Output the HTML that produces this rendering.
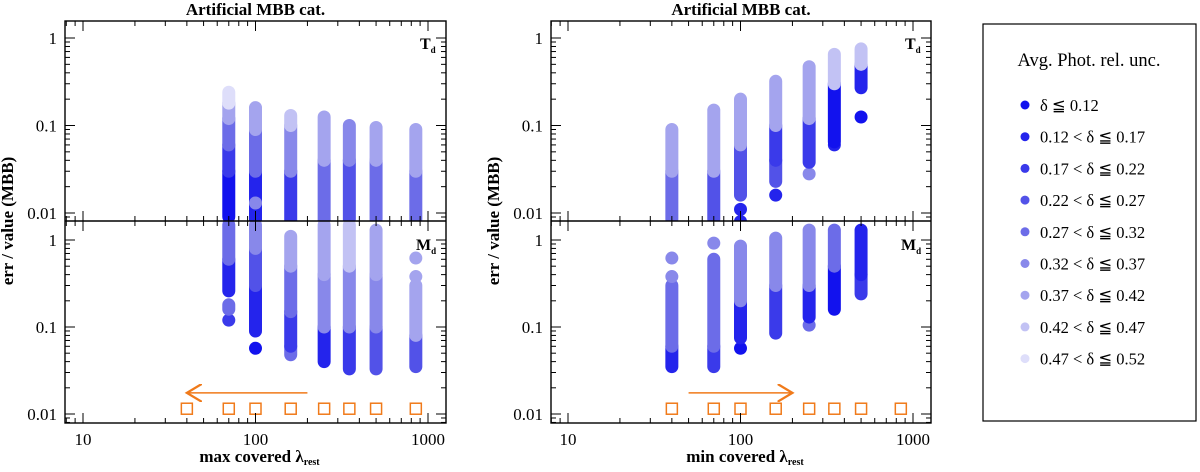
<!DOCTYPE html>
<html><head><meta charset="utf-8"><style>
body{margin:0;background:#fff;}
svg text{font-family:"Liberation Serif",serif;}
</style></head><body>
<svg id="chart" width="1200" height="467" viewBox="0 0 1200 467" xmlns="http://www.w3.org/2000/svg">
<defs>
<clipPath id="clipTop1"><rect x="65" y="21" width="381" height="200"/></clipPath>
<clipPath id="clipBot1"><rect x="65" y="221" width="381" height="202"/></clipPath>
<clipPath id="clipTop2"><rect x="551" y="21" width="380" height="200"/></clipPath>
<clipPath id="clipBot2"><rect x="551" y="221" width="380" height="202"/></clipPath>
<marker id="arrowhead" markerWidth="12" markerHeight="12" refX="10" refY="6" orient="auto"><path d="M0,0 L10,6 L0,12" fill="none" stroke="#f07a1a" stroke-width="1.5"/></marker>
</defs>
<g id="plots"></g>
<g>
<rect x="983" y="24" width="213" height="397" fill="#fff" stroke="#000" stroke-width="1.2"/>
<text x="1089" y="66" text-anchor="middle" font-size="18.5">Avg. Phot. rel. unc.</text>
<g id="legendItems"></g>
</g>
</svg>
<script>
// ---- data ----
var colors = ["#1212ee","#2424ec","#3a3aea","#5252e8","#6c6ce8","#8888ea","#a4a4ee","#c2c2f4","#dedefa"];
var legendLabels = ["δ ≦ 0.12","0.12 < δ ≦ 0.17","0.17 < δ ≦ 0.22","0.22 < δ ≦ 0.27","0.27 < δ ≦ 0.32","0.32 < δ ≦ 0.37","0.37 < δ ≦ 0.42","0.42 < δ ≦ 0.47","0.47 < δ ≦ 0.52"];
var leftColumnsX = [70,100,160,250,350,500,850];
var rightColumnsX = [40,70,100,160,250,350,500];
var squaresX = [40,70,100,160,250,350,500,850];
var squareY = 0.0115;
var xTickLabels = [10,100,1000];
var yTickLabels = [1,0.1,0.01];
// segments per column: [lo, hi, colorIndex]
var leftTd = [
 [[0.009,0.03,0],[0.03,0.06,2],[0.06,0.12,4],[0.12,0.18,6],[0.18,0.24,8]],
 [[0.008,0.03,1],[0.013,0.013,5],[0.03,0.09,4],[0.09,0.16,6]],
 [[0.008,0.03,2],[0.03,0.1,5],[0.1,0.13,7]],
 [[0.008,0.04,4],[0.04,0.125,6]],
 [[0.0085,0.04,3],[0.04,0.1,5]],
 [[0.0085,0.04,4],[0.04,0.095,6]],
 [[0.0085,0.03,4],[0.03,0.09,6]]
];
var leftMd = [
 [[0.12,0.12,2],[0.16,0.18,4],[0.26,0.6,1],[0.6,1.5,4]],
 [[0.057,0.057,0],[0.09,0.3,1],[0.3,0.8,3],[0.8,1.5,5]],
 [[0.048,0.06,4],[0.06,0.15,2],[0.15,0.5,4],[0.5,1.1,6]],
 [[0.04,0.1,1],[0.1,0.4,5],[0.4,1.5,6]],
 [[0.033,0.1,2],[0.1,0.5,5],[0.5,1.5,7]],
 [[0.033,0.1,3],[0.1,0.4,5],[0.4,1.3,6]],
 [[0.035,0.08,3],[0.08,0.3,6],[0.38,0.38,6],[0.62,0.62,6]]
];
var rightTd = [
 [[0.0085,0.03,4],[0.03,0.09,6]],
 [[0.0085,0.03,3],[0.03,0.15,6]],
 [[0.008,0.008,1],[0.011,0.011,1],[0.016,0.06,3],[0.06,0.2,6]],
 [[0.016,0.016,1],[0.023,0.04,3],[0.04,0.1,2],[0.1,0.32,6]],
 [[0.028,0.028,5],[0.038,0.12,2],[0.12,0.47,6]],
 [[0.06,0.06,1],[0.065,0.3,0],[0.3,0.65,7]],
 [[0.125,0.125,0],[0.27,0.5,1],[0.5,0.75,7]]
];
var rightMd = [
 [[0.035,0.06,1],[0.06,0.3,4],[0.38,0.38,5],[0.62,0.62,5]],
 [[0.035,0.06,2],[0.06,0.6,4],[0.92,0.92,5]],
 [[0.057,0.057,0],[0.075,0.2,1],[0.2,0.85,5]],
 [[0.085,0.3,2],[0.3,1.05,5]],
 [[0.105,0.105,4],[0.13,0.3,1],[0.3,1.3,5]],
 [[0.16,0.5,0],[0.5,1.3,4]],
 [[0.24,0.4,2],[0.4,1.3,1]]
];
var leftArrow = [200,40], rightArrow = [50,200], arrowY = 0.0175;

var NS="http://www.w3.org/2000/svg";
function mk(tag, attrs, parent){var e=document.createElementNS(NS,tag);for(var k in attrs)e.setAttribute(k,attrs[k]);parent.appendChild(e);return e;}
var root=document.getElementById('plots');

function panel(p){
  var dec=172.5;
  var xs=function(v){return p.x10+dec*Math.log10(v/10);};
  var ysTop=function(v){return 38+87.5*(-Math.log10(v));};
  var ysBot=function(v){return 240+87*(-Math.log10(v));};
  var g=mk('g',{},root);
  
  
  function drawCols(data, cx, ys, clip, nm){
    var cg=mk('g',{'clip-path':'url(#'+clip+')'},g);
    
    
    for(var i=0;i<data.length;i++){
      for(var j=0;j<data[i].length;j++){
        var s=data[i][j];var y1=ys(s[1]),y2=ys(s[0]);
        var r=mk('rect',{x:xs(cx[i])-6.5,y:y1-6.5,width:13,height:(y2-y1)+13,rx:6.5,ry:6.5,fill:colors[s[2]]},cg);
        
        
      }
    }
  }
  drawCols(p.td,p.cx,ysTop,p.clipT,'td-series');
  drawCols(p.md,p.cx,ysBot,p.clipB,'md-series');
  for(var i=0;i<squaresX.length;i++){
    var sq=mk('rect',{x:xs(squaresX[i])-5.5,y:ysBot(squareY)-5.5,width:11,height:11,fill:'none',stroke:'#f07a1a','stroke-width':1.5},g);
    
    
  }
  var ar=mk('line',{x1:xs(p.arrow[0]),x2:xs(p.arrow[1]),y1:ysBot(arrowY),y2:ysBot(arrowY),stroke:'#f07a1a','stroke-width':1.5,'marker-end':'url(#arrowhead)'},g);
  
  
  var L=p.left,R=p.right;
  mk('rect',{x:L,y:21,width:R-L,height:402,fill:'none',stroke:'#000','stroke-width':1.4},g);
  mk('line',{x1:L,x2:R,y1:221,y2:221,stroke:'#000','stroke-width':1.4},g);
  for(var d=1;d<=3;d++){for(var m=1;m<10;m++){var v=Math.pow(10,d)*m;if(v>1300)break;var x=xs(v);if(x<L||x>R)continue;
    var len=m==1?10:5;
    mk('line',{x1:x,x2:x,y1:423,y2:423-len,stroke:'#000'},g);
    mk('line',{x1:x,x2:x,y1:21,y2:21+len,stroke:'#000'},g);
    mk('line',{x1:x,x2:x,y1:221-len,y2:221+len,stroke:'#000'},g);
  }}
  for(var m=8;m<10;m++){var x=xs(m);if(x>=L){mk('line',{x1:x,x2:x,y1:423,y2:418,stroke:'#000'},g);mk('line',{x1:x,x2:x,y1:21,y2:26,stroke:'#000'},g);mk('line',{x1:x,x2:x,y1:216,y2:226,stroke:'#000'},g);}}
  [ysTop,ysBot].forEach(function(ys,k){
    var top=k==0?21:221,bot=k==0?221:423;
    for(var d=-3;d<=0;d++){for(var m=1;m<10;m++){var v=Math.pow(10,d)*m;var y=ys(v);if(y<top||y>bot)continue;
      var len=m==1?10:5;
      mk('line',{x1:L,x2:L+len,y1:y,y2:y,stroke:'#000'},g);
      mk('line',{x1:R,x2:R-len,y1:y,y2:y,stroke:'#000'},g);
    }}
    for(var i=0;i<yTickLabels.length;i++){
      var t=mk('text',{x:L-8,y:ys(yTickLabels[i])+6,'text-anchor':'end','font-size':17},g);t.textContent=String(yTickLabels[i]);
      
      
    }
  });
  for(var i=0;i<xTickLabels.length;i++){
    var t=mk('text',{x:xs(xTickLabels[i]),y:445,'text-anchor':'middle','font-size':17},g);t.textContent=String(xTickLabels[i]);
    
    
  }
  var t=mk('text',{x:(L+R)/2,y:15,'text-anchor':'middle','font-size':17,'font-weight':'bold'},g);t.textContent='Artificial MBB cat.';
  
  
  var xl=mk('text',{x:(L+R)/2+4,y:462,'text-anchor':'middle','font-size':17,'font-weight':'bold'},g);
  xl.innerHTML=p.xlabel+' λ<tspan font-size="10" dy="3">rest</tspan>';
  
  
  var yl=mk('text',{x:0,y:0,'text-anchor':'middle','font-size':17,'font-weight':'bold',transform:'translate('+(L-52)+',221) rotate(-90)'},g);yl.textContent='err / value (MBB)';
  
  
  var a=mk('text',{x:R-26,y:49,'font-size':16,'font-weight':'bold'},g);a.innerHTML='T<tspan font-size="9" dy="4">d</tspan>';
  
  
  var b=mk('text',{x:R-30,y:250,'font-size':16,'font-weight':'bold'},g);b.innerHTML='M<tspan font-size="9" dy="4">d</tspan>';
  
  
}
panel({name:'left-panel',left:65,right:446,x10:83,xlabel:'max covered',cx:leftColumnsX,td:leftTd,md:leftMd,clipT:'clipTop1',clipB:'clipBot1',arrow:leftArrow});
panel({name:'right-panel',left:551,right:931,x10:568,xlabel:'min covered',cx:rightColumnsX,td:rightTd,md:rightMd,clipT:'clipTop2',clipB:'clipBot2',arrow:rightArrow});

var lg=document.getElementById('legendItems');
for(var i=0;i<legendLabels.length;i++){
  var y=105+i*31.7;
  var c=mk('circle',{cx:1025,cy:y,r:4.5,fill:colors[i]},lg);
  
  
  var t=mk('text',{x:1040,y:y+6,'font-size':16.5},lg);t.textContent=legendLabels[i];
  
  
}
</script>
</body></html>
